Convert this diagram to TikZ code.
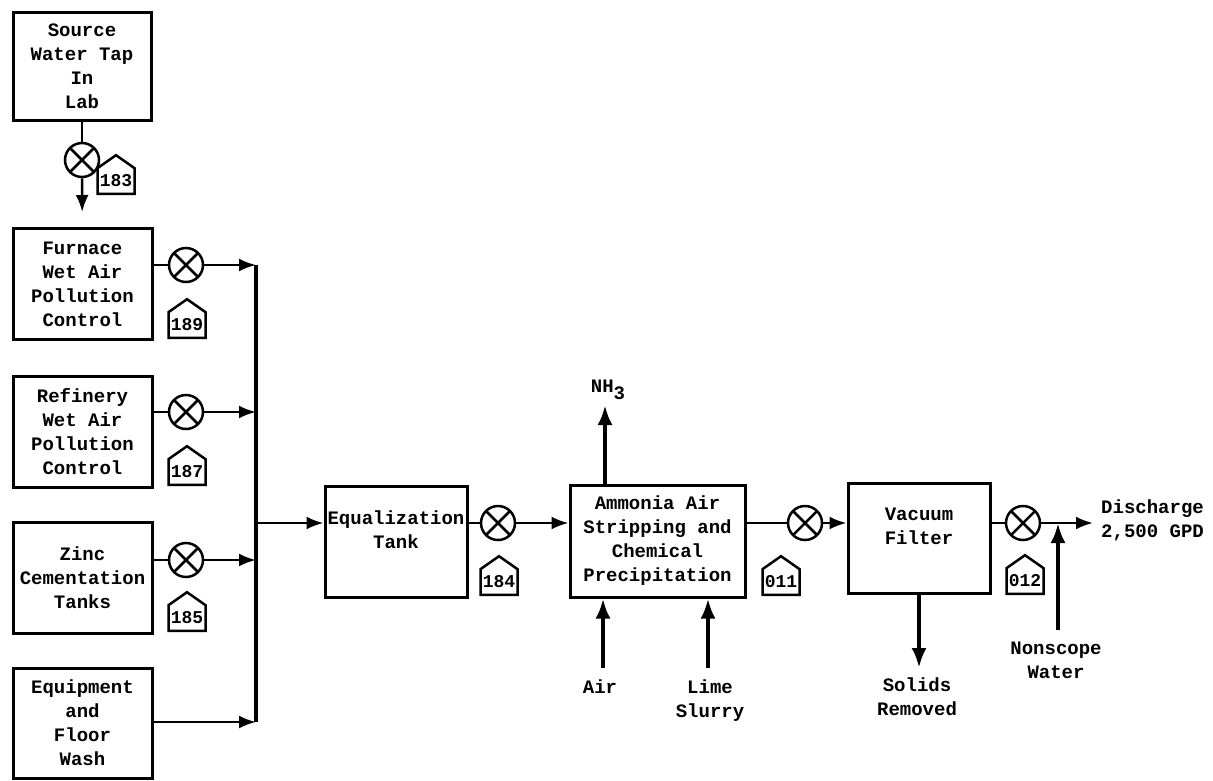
\documentclass[tikz,border=0pt]{standalone}
\usepackage{fontspec}
\setmainfont{Liberation Mono}
\usetikzlibrary{arrows.meta, positioning, shapes.symbols}

\begin{document}
\begin{tikzpicture}[
    x=1pt, y=-1pt,
    box/.style={rectangle, draw=black, line width=3pt, minimum width=139pt,
                minimum height=111pt, inner sep=0pt, align=center,
                font=\fontsize{19}{24}\selectfont\bfseries},
    valve/.style={circle, draw=black, line width=2.5pt, minimum size=34pt, inner sep=0pt,
                  path picture={\draw[line width=2.5pt]
                     (path picture bounding box.north west) -- (path picture bounding box.south east)
                     (path picture bounding box.north east) -- (path picture bounding box.south west);}},
    tag/.style={signal, signal to=north, signal pointer angle=110, draw=black, line width=2.5pt,
                minimum width=37pt, minimum height=38pt, inner sep=1.5pt,
                font=\fontsize{18}{18}\selectfont\bfseries},
    flow/.style={line width=2.5pt},
    arrow/.style={line width=2.5pt, -{Latex[length=17pt, width=13pt]}},
    heavy/.style={line width=4.5pt, -{Latex[length=20pt, width=15pt]}},
    txt/.style={align=center, inner sep=0pt, font=\fontsize{19}{24}\selectfont\bfseries}
]
\useasboundingbox (0,0) rectangle (1213,780);

% --- Source water ---
\node[box, minimum width=138pt, minimum height=108pt] (src) at (82,66) {Source\\Water Tap\\In\\Lab};
\node[valve] (v183) at (82,160) {};
\node[tag, anchor=south] (t183) at (116,195) {183};
\draw[flow] (src) -- (v183);

% --- Wastewater sources ---
\node[box] (furn) at (82.5,284) {Furnace\\Wet Air\\Pollution\\Control};
\node[box] (refin) at (82.5,431.5) {Refinery\\Wet Air\\Pollution\\Control};
\node[box] (zinc) at (82.5,577.5) {Zinc\\Cementation\\Tanks};
\node[box, minimum height=110pt] (equip) at (82.5,723) {Equipment\\and\\Floor\\Wash};
\draw[arrow, shorten >=15pt] (v183) -- (furn);

% valves on each stream
\node[valve] (v189) at (186,265) {};
\node[tag, anchor=south] (t189) at (187,339) {189};
\node[valve] (v187) at (186,412) {};
\node[tag, anchor=south] (t187) at (187,486) {187};
\node[valve] (v185) at (186,560) {};
\node[tag, anchor=south] (t185) at (187,632) {185};

% --- Collector ---
\coordinate (colltop) at (256,265);
\coordinate (collbot) at (256,722);
\draw[line width=3.5pt] (colltop) -- (collbot);
\draw[flow] (furn.east |- v189) -- (v189);
\draw[arrow] (v189) -- (v189 -| colltop);
\draw[flow] (refin.east |- v187) -- (v187);
\draw[arrow] (v187) -- (v187 -| colltop);
\draw[flow] (zinc.east |- v185) -- (v185);
\draw[arrow] (v185) -- (v185 -| colltop);
\draw[arrow] (equip.east |- collbot) -- (collbot);

% --- Equalization ---
\node[box, minimum width=142pt] (equal) at (396,541.5) {Equalization\\Tank\\\mbox{}};
\draw[arrow] (colltop |- 0,523) -- (colltop |- 0,523 -| equal.west);
\node[valve] (v184) at (498,523) {};
\node[tag, anchor=south] (t184) at (499,596) {184};
\draw[flow] (equal.east |- v184) -- (v184);

% --- Ammonia stripping ---
\node[box, minimum width=175pt, minimum height=112pt] (amm) at (657.5,541) {Ammonia Air\\Stripping and\\Chemical\\Precipitation};
\draw[arrow] (v184) -- (v184 -| amm.west);
\node[txt, anchor=south] (nh3) at (608,400) {NH\raisebox{-7pt}{3}};
\draw[heavy, shorten >=5pt] (amm.north -| 605,0) -- (nh3.south -| 605,0);
\node[txt, anchor=north] (air) at (600,680) {Air};
\draw[heavy, shorten <=12pt] (air.north -| 603,0) -- (amm.south -| 603,0);
\node[txt, anchor=north] (lime) at (710,680) {Lime\\Slurry};
\draw[heavy, shorten <=12pt] (lime.north -| 708,0) -- (amm.south -| 708,0);

% --- Vacuum filter ---
\node[valve] (v011) at (805,523) {};
\node[tag, anchor=south] (t011) at (781,596) {011};
\draw[flow] (amm.east |- v011) -- (v011);
\node[box, minimum width=142pt, minimum height=110pt] (vac) at (919,538) {Vacuum\\Filter\\\mbox{}};
\draw[arrow] (v011) -- (v011 -| vac.west);
\node[txt, anchor=north] (solids) at (917,678) {Solids\\Removed};
\draw[heavy, shorten >=10pt] (vac.south) -- (solids.north -| vac.south);

% --- Discharge ---
\node[valve] (v012) at (1023,523) {};
\node[tag, anchor=south] (t012) at (1025,595) {012};
\draw[flow] (vac.east |- v012) -- (v012);
\node[txt, anchor=west, align=left] (disch) at (1101,520) {Discharge\\2,500 GPD};
\draw[arrow, shorten >=8pt] (v012) -- (v012 -| disch.west);
\node[txt, anchor=north] (nonscope) at (1056,642) {Nonscope\\Water};
\draw[heavy, shorten <=12pt] (nonscope.north -| 1058,0) -- (v012 -| 1058,0);

\end{tikzpicture}
\end{document}
